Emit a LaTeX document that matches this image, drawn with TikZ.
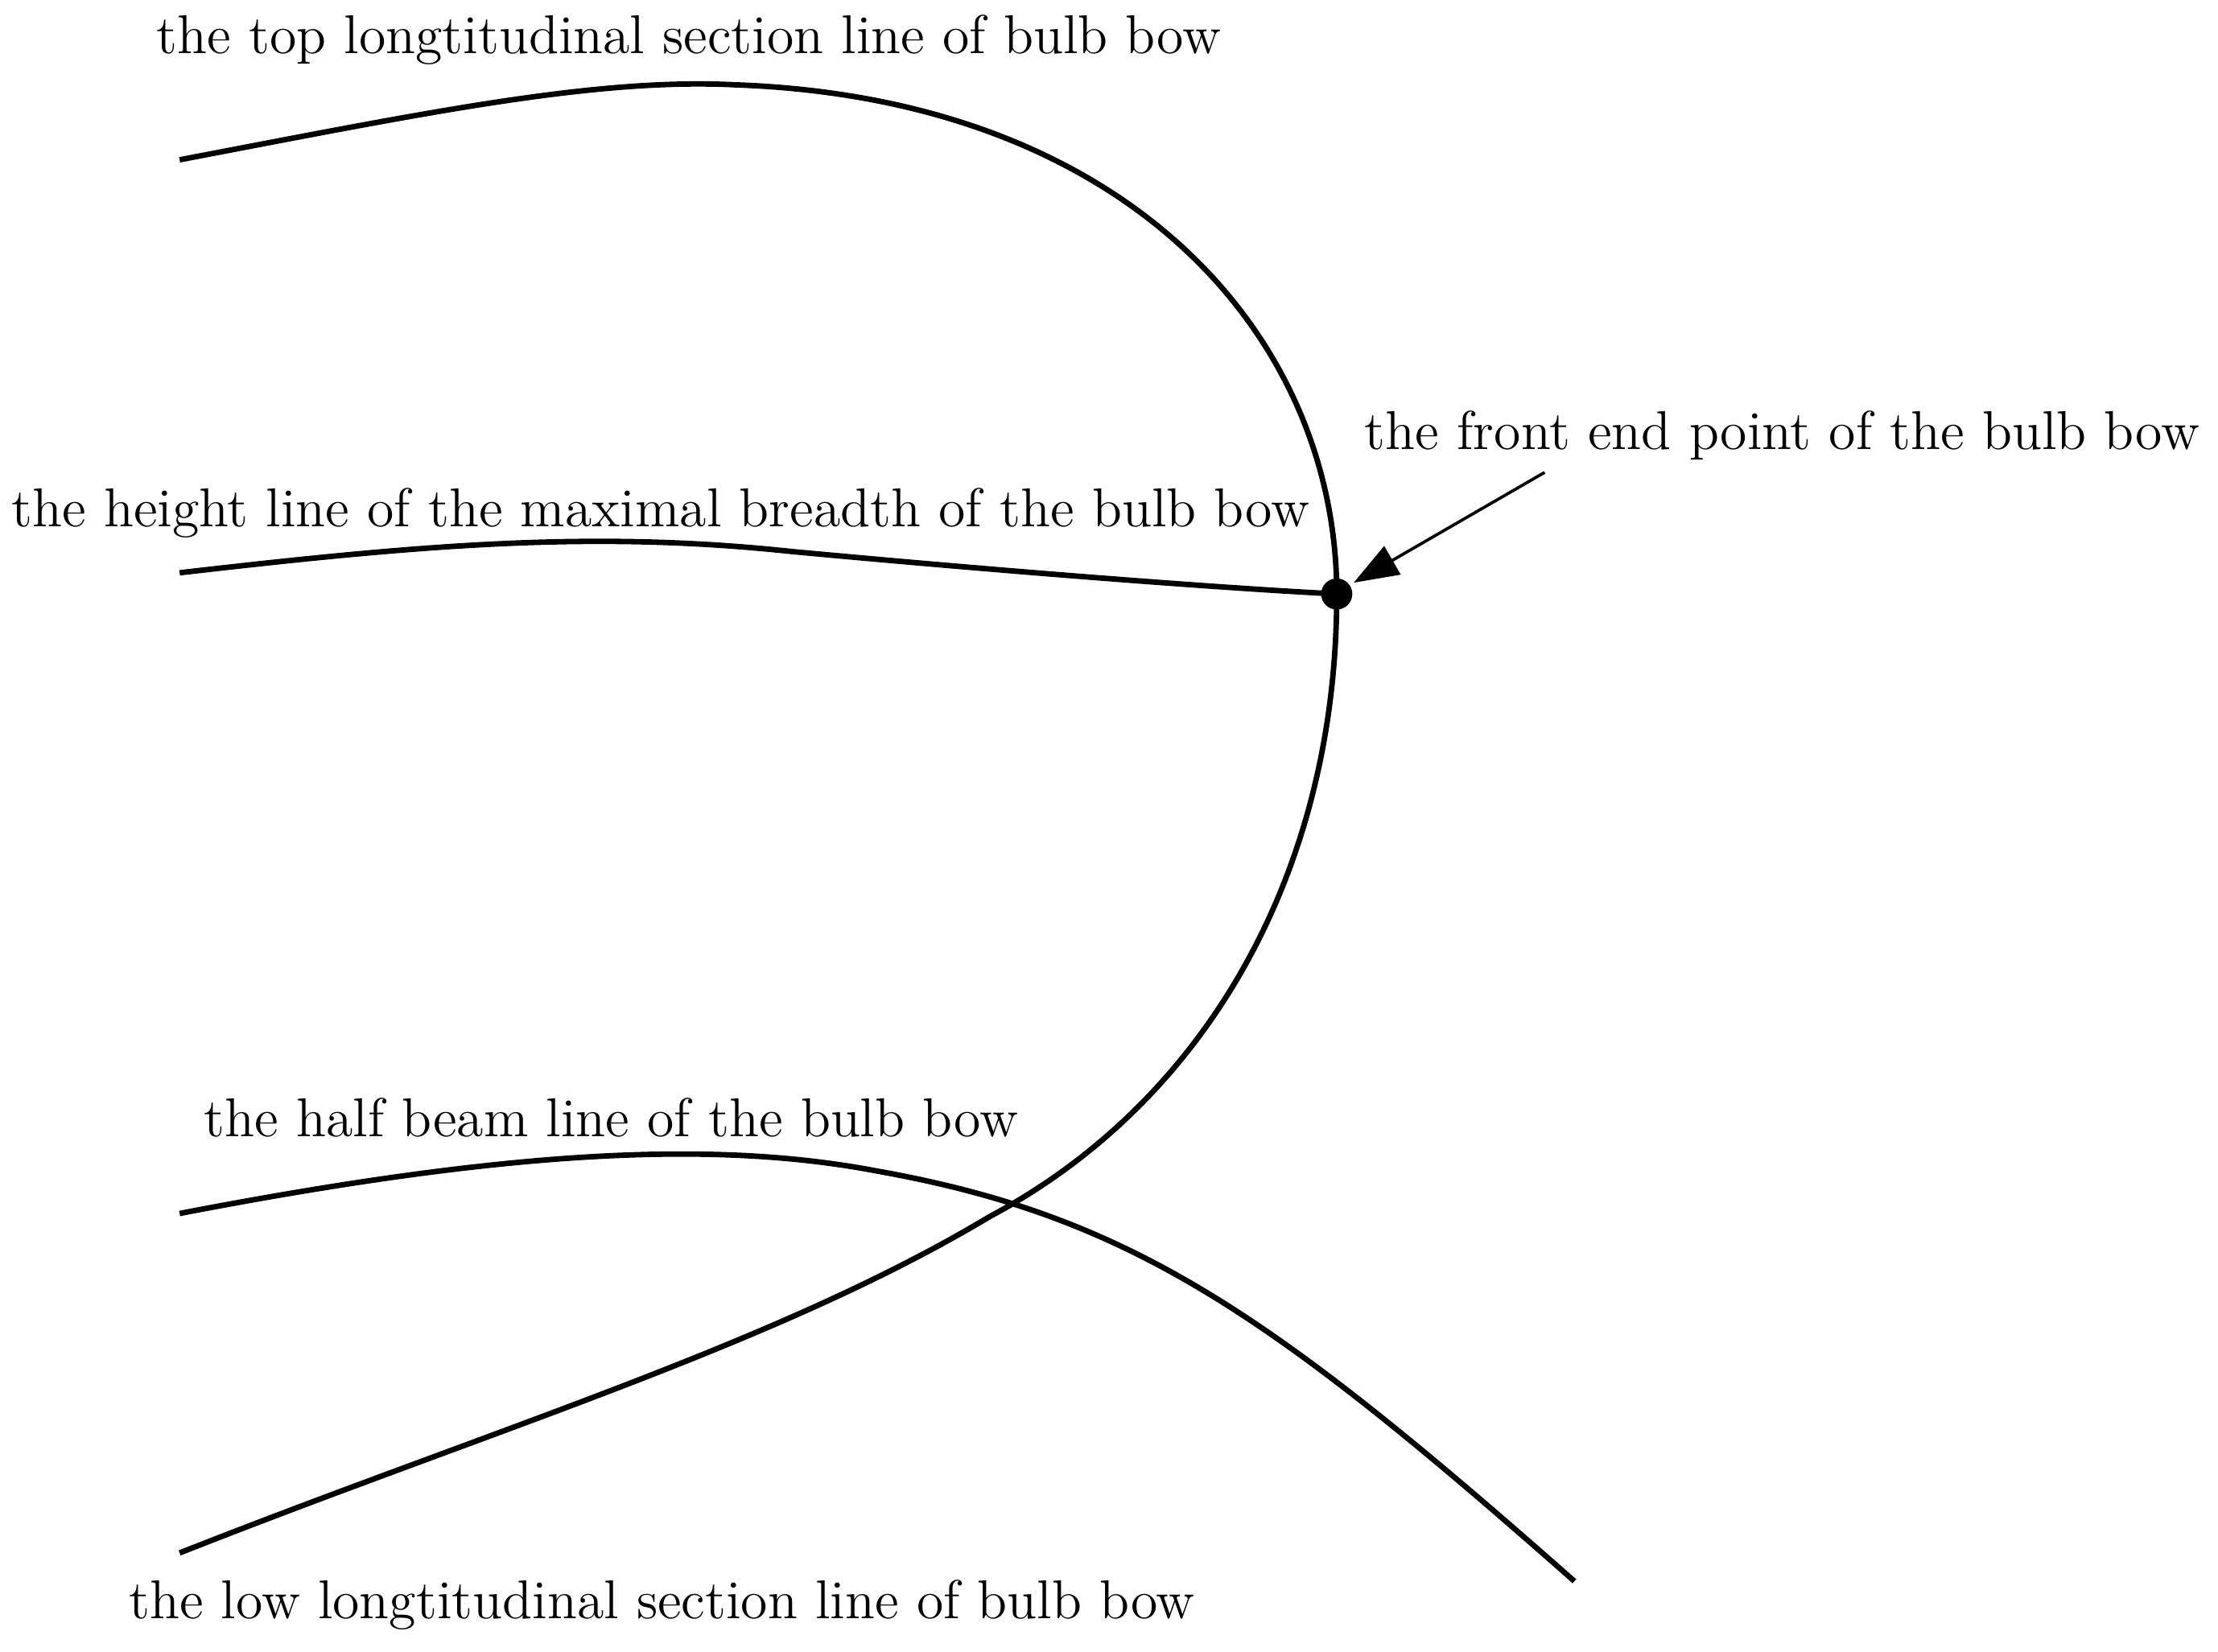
\documentclass[tikz,border=0pt]{standalone}
\usetikzlibrary{arrows.meta}
\tikzset{curve/.style={line width=1.1pt,line join=round},
 lbl/.style={font=\fontsize{11}{13}\selectfont,inner sep=0pt}}
\begin{document}
\begin{tikzpicture}[x=0.01cm,y=-0.01cm]
\useasboundingbox[fill=white] (0,0) rectangle (1568,1168);
\coordinate (front) at (945,420);
\draw[curve] (127,113) .. controls (300,80) and (420,55) .. (520,60)
  .. controls (800,70) and (945,240) .. (front)
  .. controls (945,620) and (850,780) .. (700,860)
  .. controls (550,950) and (350,1010) .. (127,1098);
\draw[curve] (127,405) .. controls (300,385) and (420,375) .. (560,390)
  .. controls (700,403) and (850,415) .. (front);
\draw[curve] (127,858) .. controls (350,815) and (500,805) .. (620,828)
  .. controls (800,860) and (900,930) .. (1113,1118);
\fill (front) circle[radius=11];
\coordinate (tail) at (1092,334);
\draw[line width=0.6pt,-{Triangle[length=9pt,width=6.5pt]}] (tail) -- (957,412);
\node[lbl] (t1) at (487,28) {the top longtitudinal section line of bulb bow};
\node[lbl] (t2) at (1260,308) {the front end point of the bulb bow};
\node[lbl] (t3) at (467,363) {the height line of the maximal breadth of the bulb bow};
\node[lbl] (t4) at (432,790) {the half beam line of the bulb bow};
\node[lbl] (t5) at (468,1135) {the low longtitudinal section line of bulb bow};
\end{tikzpicture}
\end{document}
